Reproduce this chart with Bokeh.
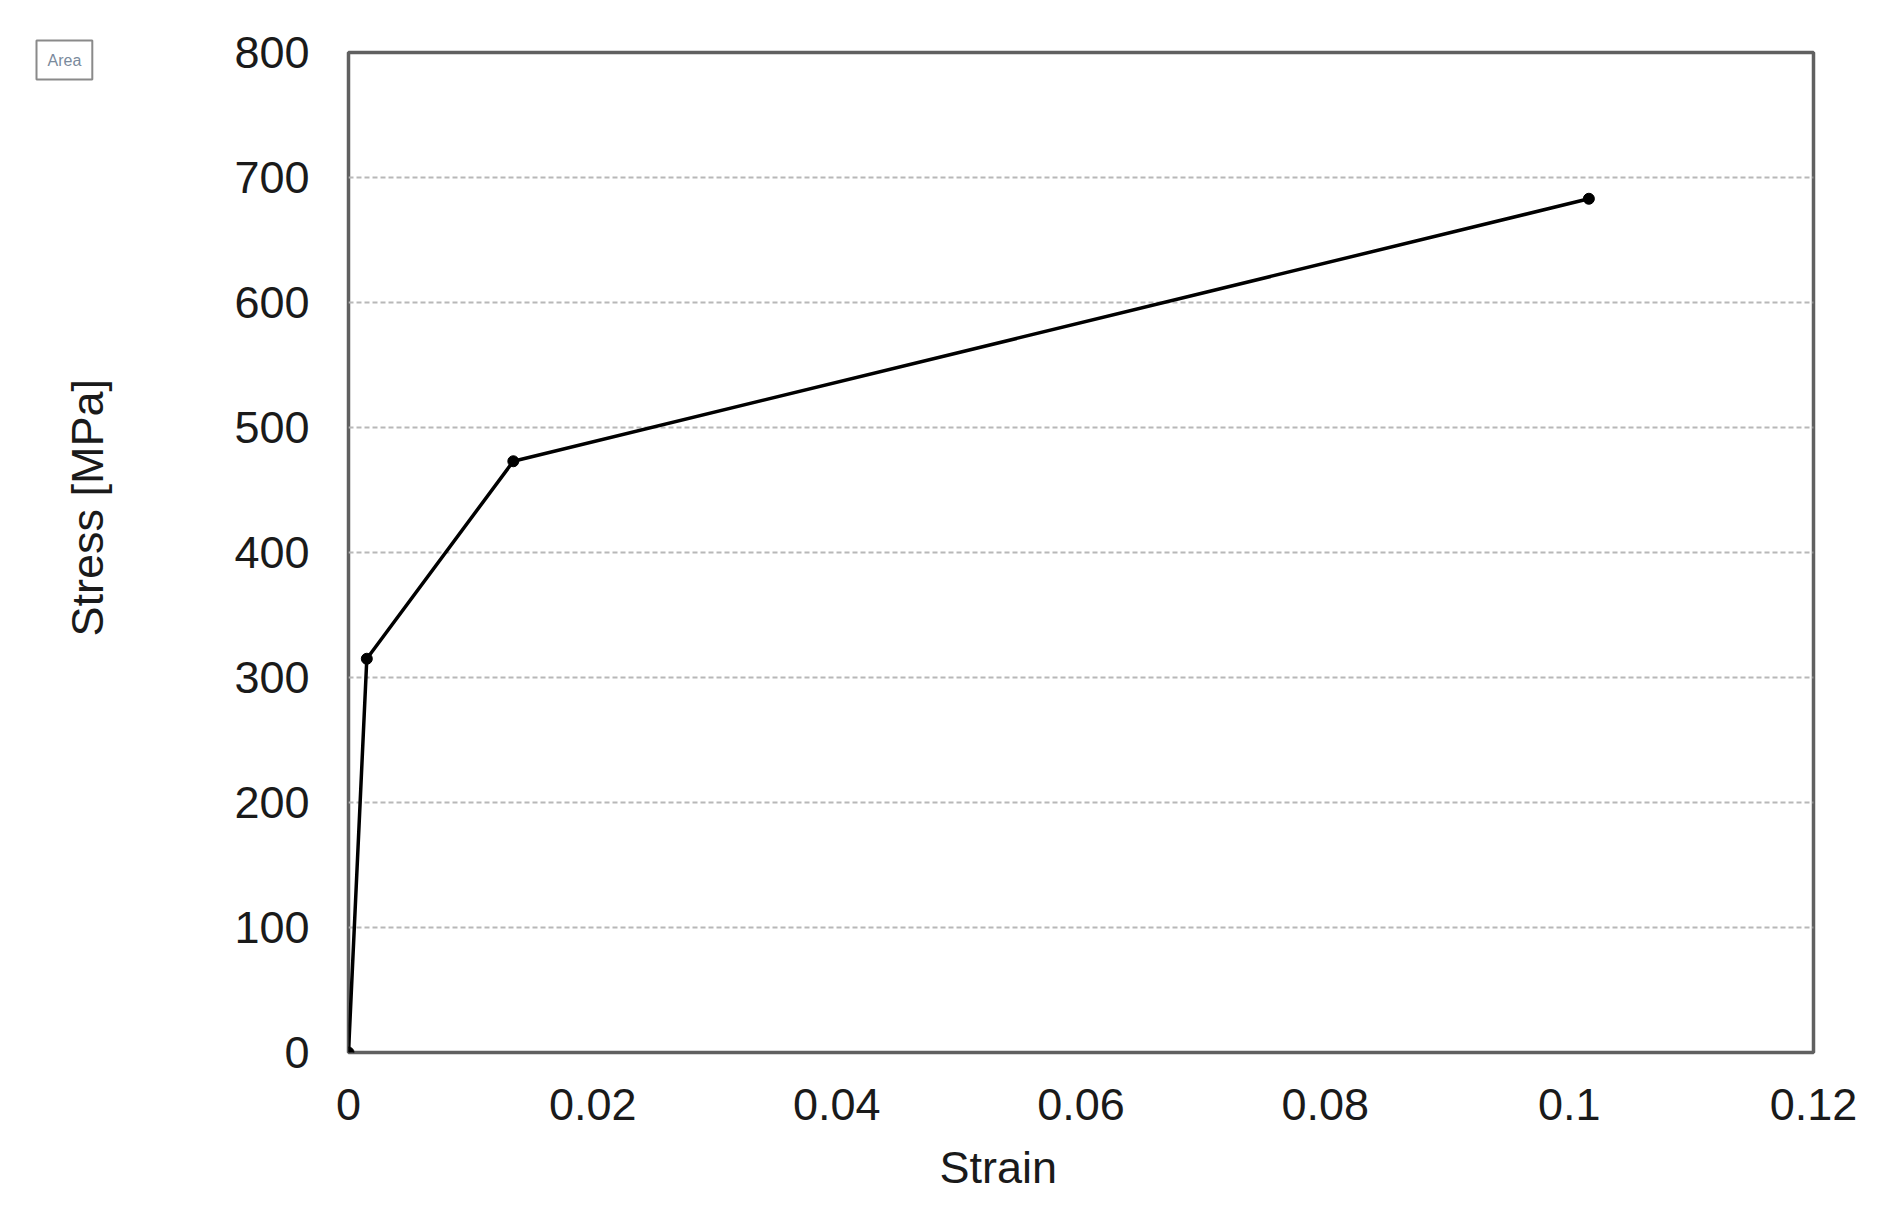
from bokeh.plotting import figure
from bokeh.models import Range1d, FixedTicker, Title
from bokeh.embed import file_html
from bokeh.resources import INLINE

# Data
strain = [0.0, 0.0015, 0.0135, 0.1016]
stress = [0.0, 315.0, 473.0, 683.0]

x_ticks = [0.0, 0.02, 0.04, 0.06, 0.08, 0.10, 0.12]
x_tick_labels = ["0", "0.02", "0.04", "0.06", "0.08", "0.1", "0.12"]
y_ticks = [0, 100, 200, 300, 400, 500, 600, 700, 800]
y_tick_labels = [str(v) for v in y_ticks]

x_title = "Strain"
y_title = "Stress [MPa]"

FONT = "Liberation Sans"
TXT = "#1a1a1a"
FS = "45px"

p = figure(width=1870, height=1190, output_backend="svg", toolbar_location=None,
           x_range=Range1d(0, 0.12), y_range=Range1d(0, 800),
           min_border_left=348, min_border_right=57, min_border_top=52, min_border_bottom=138)
p.frame_width = 1465
p.frame_height = 1000

p.outline_line_color = "#606060"
p.outline_line_width = 3.5
p.background_fill_color = "white"
p.border_fill_color = "white"

p.xgrid.grid_line_color = None
p.ygrid.grid_line_color = "#b8b8b8"
p.ygrid.grid_line_width = 2
p.ygrid.grid_line_dash = "5 3"

p.xaxis.ticker = FixedTicker(ticks=x_ticks)
p.yaxis.ticker = FixedTicker(ticks=y_ticks)
p.xaxis.major_label_overrides = {t: l for t, l in zip(x_ticks, x_tick_labels)}
p.yaxis.major_label_overrides = {t: l for t, l in zip(y_ticks, y_tick_labels)}

for ax in (p.xaxis, p.yaxis):
    ax.axis_line_color = None
    ax.major_tick_line_color = None
    ax.minor_tick_line_color = None
    ax.major_tick_out = 0
    ax.major_tick_in = 0
    ax.minor_tick_out = 0
    ax.minor_tick_in = 0
    ax.major_label_text_font = FONT
    ax.major_label_text_font_size = FS
    ax.major_label_text_color = TXT
p.xaxis.major_label_standoff = 36
p.yaxis.major_label_standoff = 39

p.line(strain, stress, line_color="black", line_width=3.5)
p.scatter(strain, stress, size=11, fill_color="black", line_color="black")

# axis titles (placed as side titles so they can sit off-centre like the reference)
p.add_layout(Title(text=x_title, align="left", offset=591, standoff=38,
                   text_font=FONT, text_font_size=FS, text_color=TXT,
                   text_font_style="normal", vertical_align="top"), "below")
# spacer between the y tick labels and the y title
p.add_layout(Title(text=" ", standoff=109, text_font_size="1px"), "left")
p.add_layout(Title(text=y_title, align="left", offset=416, standoff=10,
                   text_font=FONT, text_font_size=FS, text_color=TXT,
                   text_font_style="normal", vertical_align="top"), "left")
p.add_layout(Title(text="Area", align="left", offset=-312, standoff=-54,
                   text_font=FONT, text_font_size="16px", text_color="#7a8a9c",
                   text_font_style="normal", vertical_align="bottom",
                   border_line_color="#8a8a8a", border_line_width=2,
                   background_fill_color="white", padding=11), "above")

open("out.html", "w").write(file_html(p, INLINE))
